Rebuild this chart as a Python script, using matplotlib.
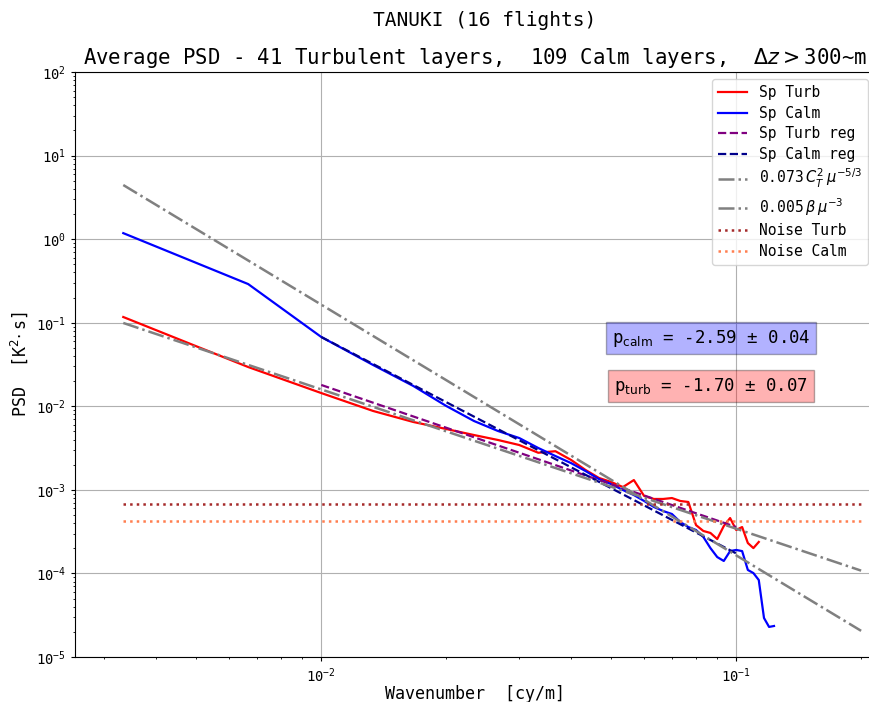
import numpy as np
import matplotlib
matplotlib.use("Agg")
import matplotlib.pyplot as plt

plt.rcParams['font.family'] = 'monospace'
plt.rcParams['font.monospace'] = ['DejaVu Sans Mono']

# Wavenumbers: harmonics of 300 m segments
n_turb = np.arange(1, 35)
n_calm = np.arange(1, 38)
k_turb = n_turb / 300.0
k_calm = n_calm / 300.0

psd_turb = [0.117, 0.0295, 0.0144, 0.00879, 0.00649, 0.00535, 0.00453, 0.00395,
            0.00344, 0.00278, 0.00290, 0.00228, 0.00173, 0.00139, 0.00124, 0.00108,
            0.00131, 0.000844, 0.000778, 0.000778, 0.000798, 0.000736, 0.000716,
            0.000379, 0.000322, 0.000305, 0.000258, 0.000369, 0.000460, 0.000331,
            0.000359, 0.000231, 0.000201, 0.000238]

psd_calm = [1.18, 0.290, 0.0675, 0.0312, 0.0175, 0.0101, 0.00667, 0.00506,
            0.00417, 0.00317, 0.00254, 0.00209, 0.00168, 0.00135, 0.00117, 0.000996,
            0.000867, 0.000736, 0.000624, 0.000558, 0.000514, 0.000412, 0.000359,
            0.000331, 0.000273, 0.000201, 0.000157, 0.000141, 0.000185, 0.000191,
            0.000185, 0.000110, 0.000101, 8.34e-5, 2.93e-5, 2.29e-5, 2.35e-5]

# regression results
p_calm, dp_calm, a_calm = -2.59, 0.04, 0.0675   # a = value at k=0.01
p_turb, dp_turb, a_turb = -1.70, 0.07, 0.0180
k_reg = np.array([0.01, 0.1])

# model spectra
CT2 = 1.012e-4
beta = 3.29e-5
k_model = np.array([1 / 300.0, 0.2])

noise_turb = 6.78e-4
noise_calm = 4.24e-4

n_turb_layers = 41
n_calm_layers = 109
n_flights = 16

fig = plt.figure(figsize=(8.7, 7.02), dpi=100)
ax = fig.add_axes([75 / 870, 45 / 702, 800 / 870, 585 / 702])

ax.loglog(k_turb, psd_turb, color='red', lw=1.6, label='Sp Turb')
ax.loglog(k_calm, psd_calm, color='blue', lw=1.6, label='Sp Calm')
ax.loglog(k_reg, a_turb * (k_reg / 0.01) ** p_turb, '--', color='purple', lw=1.6,
          label='Sp Turb reg')
ax.loglog(k_reg, a_calm * (k_reg / 0.01) ** p_calm, '--', color='darkblue', lw=1.6,
          label='Sp Calm reg')
ax.loglog(k_model, 0.073 * CT2 * k_model ** (-5 / 3), '-.', color='gray', lw=1.8,
          label=r'0.073$\,C_T^2\,\mu^{-5/3}$')
ax.loglog(k_model, 0.005 * beta * k_model ** (-3.0), '-.', color='gray', lw=1.8,
          label=r'0.005$\,\beta\,\mu^{-3}$')
ax.loglog(k_model, [noise_turb, noise_turb], ':', color='brown', lw=1.8,
          label='Noise Turb')
ax.loglog(k_model, [noise_calm, noise_calm], ':', color='coral', lw=1.8,
          label='Noise Calm')

ax.set_xlim(0.00255, 0.216)
ax.set_ylim(1e-5, 1e2)
ax.grid(True, which='major')
ax.tick_params(which='major', length=3, labelsize=10)
ax.tick_params(which='minor', length=1.5)
ax.set_xlabel('Wavenumber  [cy/m]', fontsize=12, labelpad=0)
ax.set_ylabel(r'PSD  [K$^2\!\cdot$s]', fontsize=12)
ax.legend(loc='upper right', fontsize=10.5, labelspacing=0.38)

ax.text(0.795, 0.545, r'p$_\mathrm{calm}$ = %.2f ± %.2f' % (p_calm, dp_calm),
        transform=ax.transAxes, ha='center', va='center', fontsize=12.5,
        bbox=dict(facecolor='blue', alpha=0.3))
ax.text(0.795, 0.463, r'p$_\mathrm{turb}$ = %.2f ± %.2f' % (p_turb, dp_turb),
        transform=ax.transAxes, ha='center', va='center', fontsize=12.5,
        bbox=dict(facecolor='red', alpha=0.3))

ax.set_title('Average PSD - %d Turbulent layers,  %d Calm layers,  $\\Delta z > $300~m'
             % (n_turb_layers, n_calm_layers), fontsize=14.85)
fig.text(0.557, 1 - 20 / 702, 'TANUKI (%d flights)' % n_flights, ha='center',
         va='center', fontsize=14)

fig.savefig('out.png', dpi=100)
